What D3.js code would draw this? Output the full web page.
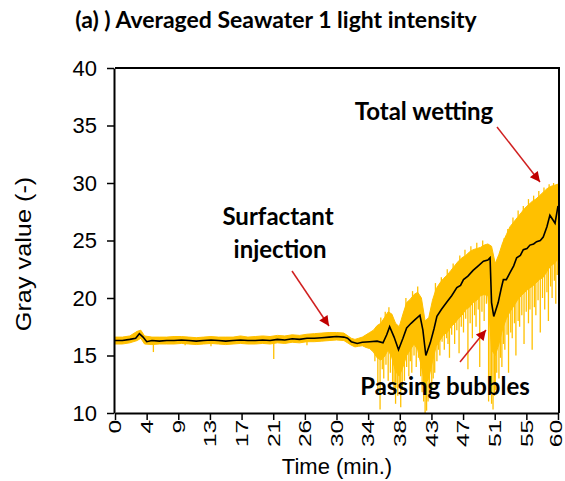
<!DOCTYPE html>
<html lang="en">
	<head>
		<meta charset="UTF-8" />
		<script src="https://cdnjs.cloudflare.com/ajax/libs/d3/7.8.5/d3.min.js"></script>
		<title>Averaged Seawater 1 light intensity</title>
		<style>
			body { margin: 0; background: #fff; }
		</style>
	</head>
	<body>
		<div class="chart"></div>

		<script>
			// moving average (black line)
			const avgTime = [0, 1, 2, 2.8, 3.3, 3.8, 4.3, 5, 6, 7, 8, 9, 10, 11, 12, 13, 14, 15, 16, 17, 18, 19, 20, 21, 22, 23, 24, 25, 26, 27, 28, 29, 30, 31, 31.5, 32, 32.8, 33.5, 34.5, 35.5, 36.3, 36.8, 37.2, 37.8, 38.4, 39, 39.5, 40.1, 40.6, 41.3, 41.7, 42.1, 42.7, 43.2, 43.6, 44.2, 44.9, 45.6, 46.3, 46.8, 47.2, 47.8, 48.5, 49.2, 49.9, 50.5, 50.8, 51.0, 51.3, 51.9, 52.3, 52.6, 53.0, 53.5, 54.0, 54.4, 54.9, 55.3, 55.8, 56.2, 56.7, 57.1, 57.6, 58.0, 58.5, 58.9, 59.3, 59.6, 60]
			const avgValue = [16.3, 16.3, 16.4, 16.5, 16.9, 16.6, 16.2, 16.3, 16.25, 16.3, 16.3, 16.35, 16.3, 16.25, 16.3, 16.35, 16.3, 16.25, 16.3, 16.35, 16.3, 16.3, 16.35, 16.3, 16.4, 16.35, 16.45, 16.4, 16.5, 16.5, 16.55, 16.6, 16.65, 16.6, 16.5, 16.2, 16.05, 16.15, 16.2, 16.25, 16.1, 16.8, 17.5, 16.6, 15.5, 16.5, 17.4, 17.8, 18.1, 18.5, 17.2, 15.0, 16.1, 17.3, 18.4, 19.0, 19.6, 20.2, 20.9, 21.1, 21.6, 21.9, 22.4, 22.8, 23.2, 23.3, 23.5, 19.6, 18.4, 19.6, 20.8, 21.6, 21.6, 22.2, 22.8, 23.5, 23.7, 24.2, 24.3, 24.6, 24.7, 24.9, 25.0, 25.3, 26.2, 27.2, 26.8, 26.5, 28.0]

			// raw signal (yellow): dense band low / high
			const bandTime = [0, 1, 2, 3, 3.5, 4, 5, 6, 7, 8, 9, 10, 11, 12, 13, 14, 15, 16, 17, 18, 19, 20, 21, 22, 23, 24, 25, 26, 27, 28, 29, 30, 31, 32, 32.5, 33, 33.5, 34, 34.5, 35, 35.5, 36, 36.5, 37, 37.5, 38, 38.5, 39, 39.5, 40, 40.5, 41, 41.5, 42, 42.5, 43, 43.5, 44, 44.5, 45, 45.5, 46, 46.5, 47, 47.5, 48, 48.5, 49, 49.5, 50, 50.5, 51, 51.5, 52, 52.5, 53, 53.5, 54, 54.5, 55, 55.5, 56, 56.5, 57, 57.5, 58, 58.5, 59, 59.5, 60]
			const bandLow = [16.0, 16.0, 16.1, 16.3, 16.5, 16.0, 15.95, 16.0, 16.0, 16.0, 16.05, 16.0, 15.95, 16.0, 16.05, 16.0, 15.95, 16.0, 16.05, 16.0, 16.0, 16.05, 16.0, 16.1, 16.05, 16.15, 16.1, 16.2, 16.2, 16.25, 16.3, 16.35, 16.3, 15.9, 15.75, 15.8, 15.85, 15.7, 15.6, 15.3, 14.8, 14.6, 14.9, 15.5, 14.8, 13.6, 13.2, 14.0, 15.0, 15.5, 16.0, 15.5, 14.0, 12.5, 13.0, 14.5, 15.8, 16.3, 16.8, 17.0, 17.5, 17.8, 18.2, 18.5, 19.0, 19.2, 19.6, 19.8, 20.2, 20.3, 20.2, 15.5, 15.0, 16.0, 17.3, 18.2, 18.8, 19.3, 19.8, 20.2, 20.5, 20.8, 21.0, 21.3, 21.6, 21.8, 22.3, 22.8, 23.0, 23.4]
			const bandHigh = [16.6, 16.6, 16.7, 17.1, 17.2, 16.7, 16.6, 16.6, 16.6, 16.65, 16.65, 16.6, 16.55, 16.6, 16.65, 16.6, 16.6, 16.6, 16.7, 16.6, 16.65, 16.7, 16.65, 16.75, 16.7, 16.8, 16.75, 16.85, 16.9, 16.95, 17.0, 17.0, 16.95, 16.5, 16.4, 16.5, 16.6, 16.8, 17.0, 17.2, 17.6, 17.8, 18.3, 18.8, 18.6, 17.8, 17.5, 18.6, 19.6, 19.9, 20.3, 20.5, 20.0, 18.0, 18.3, 19.8, 20.8, 21.3, 21.7, 22.0, 22.4, 22.8, 23.2, 23.5, 23.7, 24.0, 24.2, 24.3, 24.4, 24.6, 24.7, 24.5, 23.0, 23.8, 24.8, 25.5, 26.2, 26.6, 27.0, 27.4, 27.8, 28.1, 28.4, 28.6, 28.9, 29.2, 29.5, 29.7, 29.8, 29.9]

			// raw signal: downward spikes (time, lowest value)
			const spikeTime = [5.2, 9.5, 13.0, 17.8, 21.5, 26.0, 35.2, 35.6, 35.9, 36.2, 36.4, 36.7, 37.0, 37.3, 37.6, 37.8, 38.0, 38.2, 38.3, 38.5, 38.7, 38.9, 39.2, 39.5, 39.8, 40.0, 40.2, 40.5, 40.8, 41.1, 41.4, 41.6, 41.8, 42.0, 42.2, 42.4, 42.6, 42.9, 43.1, 43.3, 43.6, 43.8, 44.0, 44.3, 44.6, 44.9, 45.1, 45.3, 45.6, 46.0, 46.3, 46.6, 46.9, 47.2, 47.5, 47.8, 48.1, 48.4, 48.7, 48.9, 49.2, 49.4, 49.7, 50.0, 50.3, 50.6, 50.8, 51.0, 51.2, 51.4, 51.5, 51.7, 52.0, 52.2, 52.4, 52.6, 52.8, 53.1, 53.3, 53.6, 53.8, 54.1, 54.3, 54.6, 54.8, 55.1, 55.4, 55.7, 56.0, 56.2, 56.5, 56.8, 57.0, 57.3, 57.6, 57.9, 58.2, 58.5, 58.7, 59.0, 59.2, 59.5, 59.7, 59.9]
			const spikeLow = [15.3, 15.9, 15.8, 16.0, 14.7, 15.9, 14.5, 12.0, 10.3, 13.8, 13.0, 14.2, 12.8, 13.5, 12.5, 11.8, 10.8, 12.2, 11.5, 12.6, 10.5, 12.0, 12.8, 14.0, 13.2, 14.5, 13.5, 15.0, 14.0, 14.8, 13.2, 11.8, 11.0, 10.0, 10.2, 11.0, 11.8, 12.0, 13.0, 13.5, 14.5, 15.5, 15.0, 16.2, 15.5, 16.5, 16.0, 14.8, 16.8, 16.0, 17.2, 15.2, 17.5, 17.0, 18.2, 13.8, 17.8, 16.5, 18.5, 17.5, 19.0, 14.0, 18.8, 18.0, 19.5, 11.0, 12.5, 10.8, 10.3, 11.5, 12.0, 13.5, 13.0, 14.8, 14.0, 16.0, 15.5, 16.8, 13.5, 17.0, 16.5, 17.8, 15.0, 18.0, 17.5, 18.5, 16.0, 18.8, 17.8, 19.0, 15.5, 19.2, 18.5, 19.8, 17.0, 20.0, 19.0, 20.5, 18.0, 21.0, 20.0, 21.5, 19.5, 22.0]

			// raw signal: upward spikes (time, highest value)
			const peakTime = [36.0, 36.6, 37.1, 39.4, 40.3, 41.0, 43.4, 44.2, 45.0, 45.8, 46.7, 47.4, 48.2, 49.0, 49.8, 52.7, 53.2, 53.9, 54.6, 55.3, 56.0, 56.7, 57.4, 58.1, 58.8, 59.4]
			const peakHigh = [18.3, 18.8, 19.2, 20.0, 20.6, 21.0, 21.3, 21.8, 22.5, 23.0, 23.7, 24.2, 24.5, 24.8, 25.0, 25.2, 26.0, 27.0, 27.6, 28.0, 28.6, 28.9, 29.3, 29.6, 29.9, 30.0]

			const yTicks = [10, 15, 20, 25, 30, 35, 40]
			const xTickLabels = ['0', '4', '9', '13', '17', '21', '26', '30', '34', '38', '43', '47', '51', '55', '60']

			const svgWidth = 565
			const svgHeight = 481
			const plotLeft = 115
			const plotRight = 558
			const plotTop = 68
			const plotBottom = 413
			const gold = '#ffc000'

			const svg = d3
				.select('.chart')
				.append('svg')
				.attr('width', svgWidth)
				.attr('height', svgHeight)
				.style('font-family', 'Liberation Sans, Arial, sans-serif')

			const xScale = d3.scaleLinear().domain([0, 60]).range([plotLeft, plotRight])
			const yScale = d3.scaleLinear().domain([10, 40]).range([plotBottom, plotTop])

			svg
				.append('clipPath')
				.attr('id', 'plot')
				.append('rect')
				.attr('x', plotLeft)
				.attr('y', plotTop)
				.attr('width', plotRight - plotLeft)
				.attr('height', plotBottom - plotTop)

			const plot = svg.append('g').attr('clip-path', 'url(#plot)')

			// value of the average at time t, for where a spike starts
			const avgAt = t => {
				const i = Math.min(d3.bisectLeft(avgTime, t), avgTime.length - 1)
				return avgValue[i]
			}

			// yellow raw signal
			const band = bandTime.map((t, i) => ({ t, lo: bandLow[i], hi: bandHigh[i] }))
			plot
				.append('path')
				.datum(band)
				.attr('fill', gold)
				.attr('stroke', gold)
				.attr('stroke-width', 1)
				.attr(
					'd',
					d3
						.area()
						.x(d => xScale(d.t))
						.y0(d => yScale(d.lo))
						.y1(d => yScale(d.hi))
				)

			plot
				.selectAll('.spike')
				.data(spikeTime)
				.join('line')
				.attr('class', 'spike')
				.attr('x1', d => xScale(d))
				.attr('x2', d => xScale(d))
				.attr('y1', d => yScale(avgAt(d)))
				.attr('y2', (d, i) => yScale(spikeLow[i]))
				.attr('stroke', gold)
				.attr('stroke-width', 1.3)

			plot
				.selectAll('.peak')
				.data(peakTime)
				.join('line')
				.attr('class', 'peak')
				.attr('x1', d => xScale(d))
				.attr('x2', d => xScale(d))
				.attr('y1', d => yScale(avgAt(d)))
				.attr('y2', (d, i) => yScale(peakHigh[i]))
				.attr('stroke', gold)
				.attr('stroke-width', 1.3)

			// black moving average
			plot
				.append('path')
				.datum(avgTime.map((t, i) => [t, avgValue[i]]))
				.attr('fill', 'none')
				.attr('stroke', '#000')
				.attr('stroke-width', 1.6)
				.attr(
					'd',
					d3
						.line()
						.x(d => xScale(d[0]))
						.y(d => yScale(d[1]))
				)

			// frame top + right
			svg
				.append('path')
				.attr('d', `M${plotLeft},${plotTop}H${plotRight + 1}V${plotBottom}`)
				.attr('fill', 'none')
				.attr('stroke', '#000')
				.attr('stroke-width', 2)

			// y axis
			const yAxis = svg
				.append('g')
				.attr('transform', `translate(${plotLeft - 1},0)`)
				.call(d3.axisLeft(yScale).tickValues(yTicks).tickSize(7).tickPadding(10).tickSizeOuter(0))
			yAxis.select('.domain').attr('stroke-width', 2)
			yAxis.selectAll('.tick line').attr('stroke-width', 1.5)
			yAxis.selectAll('text').style('font-size', '22px').attr('fill', '#000')

			// x axis
			const xTickValues = xTickLabels.map((l, i) => (i * 60) / (xTickLabels.length - 1))
			const xAxis = svg
				.append('g')
				.attr('transform', `translate(0,${plotBottom})`)
				.call(
					d3
						.axisBottom(xScale)
						.tickValues(xTickValues)
						.tickFormat((d, i) => xTickLabels[i])
						.tickSize(7)
						.tickSizeOuter(0)
				)
			xAxis.select('.domain').attr('stroke-width', 2)
			xAxis.selectAll('.tick line').attr('stroke-width', 1.5)
			xAxis
				.selectAll('text')
				.style('font-size', '22px')
				.attr('fill', '#000')
				.attr('transform', (d, i) =>
					i === xTickLabels.length - 1
						? 'translate(-2,0) rotate(-90) scale(1.12,0.74)'
						: 'rotate(-90) scale(1.12,0.76)'
				)
				.attr('x', -6)
				.attr('y', 0)
				.attr('dy', '0.35em')
				.style('text-anchor', 'end')

			// axis titles
			svg
				.append('text')
				.attr('x', 337)
				.attr('y', 474)
				.attr('text-anchor', 'middle')
				.style('font-size', '22px')
				.text('Time (min.)')

			svg
				.append('text')
				.attr('transform', 'translate(31,254) rotate(-90) scale(1.15,1)')
				.attr('text-anchor', 'middle')
				.style('font-size', '22px')
				.text('Gray value (-)')

			// title
			svg
				.append('text')
				.attr('x', 276)
				.attr('y', 28)
				.attr('text-anchor', 'middle')
				.style('font-family', 'Lato, sans-serif')
				.style('font-weight', 'bold')
				.style('font-size', '23px')
				.text('(a) ) Averaged Seawater 1 light intensity')

			// annotations
			const notes = [
				{ text: 'Total wetting', x: 424, y: 120 },
				{ text: 'Surfactant', x: 278, y: 225 },
				{ text: 'injection', x: 280, y: 258 },
				{ text: 'Passing bubbles', x: 445, y: 395 },
			]
			svg
				.selectAll('.note')
				.data(notes)
				.join('text')
				.attr('class', 'note')
				.attr('x', d => d.x)
				.attr('y', d => d.y)
				.attr('text-anchor', 'middle')
				.style('font-family', 'Lato, sans-serif')
				.style('font-weight', 'bold')
				.style('font-size', '24px')
				.text(d => d.text)

			svg
				.append('defs')
				.append('marker')
				.attr('id', 'head')
				.attr('viewBox', '0 0 10 10')
				.attr('refX', 10)
				.attr('refY', 5)
				.attr('markerWidth', 12)
				.attr('markerHeight', 10)
				.attr('markerUnits', 'userSpaceOnUse')
				.attr('orient', 'auto')
				.append('path')
				.attr('d', 'M0,0L10,5L0,10Z')
				.attr('fill', '#c00000')

			const arrows = [
				[292, 271, 329, 326],
				[497, 127, 540, 182],
				[460, 362, 486, 330],
			]
			svg
				.selectAll('.arrow')
				.data(arrows)
				.join('line')
				.attr('class', 'arrow')
				.attr('x1', d => d[0])
				.attr('y1', d => d[1])
				.attr('x2', d => d[2])
				.attr('y2', d => d[3])
				.attr('stroke', '#d02020')
				.attr('stroke-width', 1.5)
				.attr('marker-end', 'url(#head)')
		</script>
	</body>
</html>
